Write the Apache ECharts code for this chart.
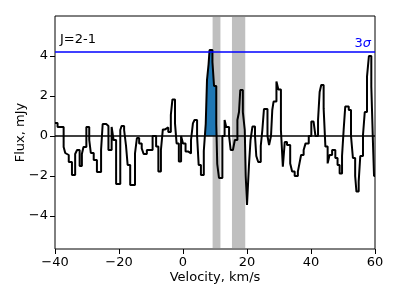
<!DOCTYPE html>
<html>
<head>
<meta charset="utf-8">
<script src="https://cdn.jsdelivr.net/npm/echarts@6/dist/echarts.min.js"></script>
<style>
html,body{margin:0;padding:0;background:#fff;}
#chart{width:399px;height:299px;}
</style>
</head>
<body>
<div id="chart"></div>
<script>
// Segment left edges (km/s) of the step spectrum, and flux (mJy) in each segment
const velocity = [
  -40.0, -39.2, -37.3, -36.8, -36.2, -35.7, -34.7, -33.7, -33.1, -32.3,
  -31.6, -31.1, -30.2, -29.3, -28.8, -27.9, -26.9, -25.6, -25.1, -24.0,
  -23.3, -22.3, -21.7, -20.9, -19.6, -19.2, -18.4, -17.8, -17.3, -16.5,
  -15.0, -14.4, -13.7, -12.9, -12.3, -11.3, -9.5, -8.4, -7.7, -6.9,
  -6.3, -5.6, -4.6, -3.8, -3.3, -2.5, -2.0, -1.3, -0.6, 0.0,
  0.8, 1.7, 2.5, 3.1, 3.6, 4.4, 4.9, 5.6, 6.5, 7.1,
  7.5, 8.0, 8.3, 9.2, 9.7, 10.4, 10.7, 11.25, 12.3, 13.0,
  13.5, 14.4, 14.9, 15.6, 16.2, 17.0, 17.5, 17.9, 18.7, 19.3,
  19.6, 20.0, 20.6, 21.1, 21.7, 22.5, 22.9, 23.5, 24.3, 24.8,
  25.3, 26.4, 26.9, 27.5, 27.9, 28.3, 29.2, 29.8, 30.6, 31.2,
  31.8, 32.5, 33.5, 34.1, 34.9, 35.9, 36.4, 36.9, 37.7, 38.3,
  39.3, 40.1, 40.8, 41.4, 42.2, 42.7, 43.2, 43.95, 44.5, 45.2,
  45.8, 46.6, 47.6, 48.3, 48.95, 49.7, 50.2, 50.7, 51.8, 52.5,
  53.1, 53.8, 54.2, 54.9, 55.4, 56.25, 56.8, 57.5, 58.1, 58.85,
  59.4, 59.7
];
const flux = [
  0.65, 0.45, -0.55, -0.85, -0.95, -1.3, -1.95, -0.9, -0.7, -1.5,
  -0.9, -0.55, 0.45, -0.2, -0.85, -1.2, -1.8, -0.7, 0.6, 0.5,
  -0.7, 0.45, -0.2, -2.4, 0.3, 0.5, 0.3, -0.5, -1.45, -2.45,
  -0.87, -0.1, -0.37, -0.62, -0.9, -0.7, 0.0, -0.53, -1.78, -0.7,
  0.33, 0.43, 0.2, 1.05, 1.83, 0.63, -0.37, -1.28, 0.0, -0.37,
  -0.78, -0.87, -0.2, 0.63, 0.8, 0.0, -1.45, -1.95, -0.75, 0.6,
  2.8, 3.6, 4.3, 3.7, 2.5, 0.6, -1.4, -2.1, 0.0, 0.8,
  0.45, 0.0, -0.7, -0.8, -0.2, 0.8, 1.2, 2.3, 1.2, 0.3,
  -2.0, -3.45, -1.5, -0.2, 0.47, 0.0, -1.0, -1.3, -0.5, 0.3,
  1.35, 0.0, -0.45, 0.0, 1.3, 1.72, 2.72, 2.33, 0.3, -1.53,
  -0.3, -0.45, -1.37, -1.78, -2.0, -1.78, -1.37, -0.95, -0.7, -0.37,
  0.0, 0.72, 0.65, 0.0, 0.8, 2.2, 2.55, 1.38, -0.53, -1.37,
  -0.95, -0.7, -1.1, -1.45, -1.87, -1.0, 0.3, 1.47, 1.3, 0.0,
  -1.1, -2.0, -2.78, -2.28, -1.0, 0.05, 1.2, 2.97, 4.0, 2.47,
  -0.53, -2.0
];
const velocityEnd = 60;
// Line-emission window filled in blue
const fillRange = [7.1, 10.7];
// Grey excluded bands
const bandStart = [9.25, 15.3];
const bandEnd = [11.7, 19.45];
// 3-sigma level
const sigma3 = 4.22;
const xTicks = [-40, -20, 0, 20, 40, 60];
const yTicks = [-4, -2, 0, 2, 4];
const xRange = [-40, 60];
const yRange = [-5.65, 6.0];

const stepData = velocity.map((v, i) => [v, flux[i]]);
stepData.push([velocityEnd, flux[flux.length - 1]]);

const fillData = [];
velocity.forEach((v, i) => {
  if (v >= fillRange[0] && v < fillRange[1]) fillData.push([v, flux[i]]);
});
fillData.push([fillRange[1], fillData[fillData.length - 1][1]]);

const FONT = 'DejaVu Sans';
const minus = s => String(s).replace('-', '\u2212');

const chart = echarts.init(document.getElementById('chart'), null, {renderer: 'canvas'});
chart.setOption({
  animation: false,
  backgroundColor: '#fff',
  grid: {left: 55, right: 24, top: 16, bottom: 50, containLabel: false, outerBoundsMode: 'none',
         show: true, borderColor: '#000', borderWidth: 1, backgroundColor: 'transparent'},
  xAxis: {
    type: 'value', min: xRange[0], max: xRange[1], interval: 20,
    splitLine: {show: false},
    axisLine: {show: false, onZero: false},
    axisTick: {show: true, inside: false, length: 5, lineStyle: {color: '#000', width: 1}, customValues: xTicks},
    axisLabel: {color: '#000', fontFamily: FONT, fontSize: 13, margin: 7, formatter: v => minus(v), customValues: xTicks},
    name: 'Velocity, km/s', nameLocation: 'middle', nameGap: 22, nameMoveOverlap: false,
    nameTextStyle: {color: '#000', fontFamily: FONT, fontSize: 13}
  },
  yAxis: {
    type: 'value', min: yRange[0], max: yRange[1],
    splitLine: {show: false},
    axisLine: {show: false, onZero: false},
    axisTick: {show: true, inside: false, length: 5, lineStyle: {color: '#000', width: 1}, customValues: yTicks},
    axisLabel: {color: '#000', fontFamily: FONT, fontSize: 13, margin: 7, formatter: v => minus(v), customValues: yTicks},
    name: 'Flux, mJy', nameLocation: 'middle', nameGap: 28, nameMoveOverlap: false,
    nameTextStyle: {color: '#000', fontFamily: FONT, fontSize: 13}
  },
  graphic: [{
    type: 'text', x: 60, y: 40, z: 10,
    style: {text: 'J=2-1', font: '13px "DejaVu Sans"', fill: '#000', verticalAlign: 'middle', textAlign: 'left'}
  }],
  series: [
    {
      type: 'line', step: 'end', data: fillData, showSymbol: false, silent: true, z: 1,
      lineStyle: {width: 0}, areaStyle: {color: '#1f77b4', opacity: 1}
    },
    {
      type: 'line', data: [], silent: true, z: 2,
      markArea: {
        silent: true,
        itemStyle: {color: 'rgba(128,128,128,0.5)'},
        data: bandStart.map((s, i) => [{xAxis: s}, {xAxis: bandEnd[i]}])
      }
    },
    {
      type: 'line', step: 'end', data: stepData, showSymbol: false, silent: true, z: 4,
      lineStyle: {color: '#000', width: 2},
      markLine: {
        silent: true, symbol: 'none',
        data: [
          {yAxis: 0, lineStyle: {color: '#000', width: 1.5, type: 'solid'}, label: {show: false}},
          {yAxis: sigma3, lineStyle: {color: '#0000ff', width: 1.5, type: 'solid'},
           label: {show: true, position: 'insideEndTop', distance: [4, 1], formatter: '{a|3}{b|σ}',
             rich: {a: {color: '#0000ff', fontFamily: FONT, fontSize: 13}, b: {color: '#0000ff', fontFamily: FONT, fontSize: 13, fontStyle: 'italic'}}}}
        ]
      }
    }
  ]
});
</script>
</body>
</html>
